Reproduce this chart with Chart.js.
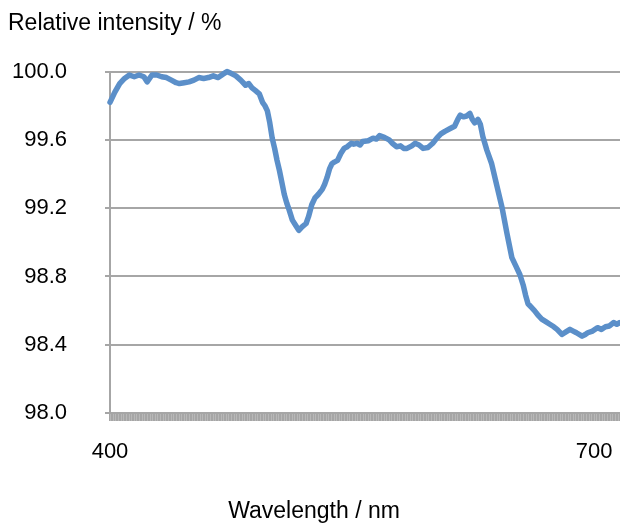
<!DOCTYPE html>
<html>
<head>
<meta charset="utf-8">
<script src="https://cdn.jsdelivr.net/npm/chart.js@4/dist/chart.umd.min.js"></script>
<style>
  html, body { margin: 0; padding: 0; background: #ffffff; }
  #wrap { width: 620px; height: 523px; }
</style>
</head>
<body>
<div id="wrap"><canvas id="c" width="620" height="523"></canvas></div>
<script>
const wavelengths = [400,403,406,409,412,415,418,421,423,426,429,432,435,438,441,443,446,449,452,455,458,461,464,467,470,472.5,475,478,481,484,486,488,490,492.5,494.5,496,497.5,499,500.5,502,503.5,505,506.5,508,509.5,511,513,515,517,519,521.5,523,525,527,529,531.5,533,534.5,536,537.5,539,541,543,545,547,549.5,551,553,555,556.5,560,563,565,567,570,573,575,577.5,580,582,584,587,589,591.5,594,597,600,602.5,605,607.5,610.5,613.5,615.5,617,619,621,623,624.5,626,628,629.5,631,633.5,636.5,639.5,643,646,649,651.5,654,656,657.5,659,661,663,665.5,667.5,670,672.5,675,677,680,682.5,685,687,689,692.5,694.5,696,699,702,704.5,707,709.5,712,714,716];
const intensity = [99.82,99.88,99.93,99.96,99.98,99.97,99.98,99.97,99.94,99.98,99.98,99.97,99.965,99.95,99.935,99.93,99.935,99.94,99.95,99.965,99.96,99.965,99.975,99.965,99.985,100.0,99.99,99.975,99.95,99.92,99.93,99.905,99.89,99.87,99.82,99.80,99.77,99.70,99.61,99.55,99.48,99.42,99.35,99.28,99.23,99.19,99.13,99.10,99.07,99.09,99.11,99.15,99.22,99.26,99.28,99.31,99.34,99.38,99.43,99.46,99.47,99.48,99.52,99.55,99.56,99.58,99.575,99.58,99.57,99.59,99.595,99.61,99.605,99.625,99.615,99.60,99.58,99.56,99.565,99.55,99.55,99.565,99.58,99.57,99.55,99.555,99.58,99.61,99.635,99.65,99.665,99.68,99.72,99.745,99.735,99.74,99.755,99.72,99.70,99.72,99.69,99.62,99.54,99.46,99.34,99.20,99.05,98.91,98.86,98.81,98.75,98.69,98.64,98.62,98.60,98.57,98.55,98.535,98.52,98.505,98.49,98.46,98.475,98.49,98.48,98.47,98.45,98.46,98.47,98.48,98.50,98.49,98.505,98.51,98.53,98.52,98.53];
const xLabelValues = [400, 700];
const yTickValues = [98.0, 98.4, 98.8, 99.2, 99.6, 100.0];
const yTitle = 'Relative intensity / %';
const xTitle = 'Wavelength / nm';

const FONT = '"Liberation Sans", Arial, Helvetica, sans-serif';
const GRID = '#a6a6a6';

new Chart(document.getElementById('c'), {
  type: 'line',
  data: {
    datasets: [{
      data: wavelengths.map((w, i) => ({ x: w, y: intensity[i] })),
      borderColor: '#5b8fc9',
      borderWidth: 5.5,
      pointRadius: 0,
      tension: 0,
      fill: false,
      borderCapStyle: 'round',
      borderJoinStyle: 'round',
      clip: false
    }]
  },
  options: {
    responsive: false,
    animation: false,
    layout: { padding: { left: 8, right: 0, top: 8, bottom: -2 } },
    plugins: {
      legend: { display: false },
      tooltip: { enabled: false },
      title: {
        display: true, text: yTitle, align: 'start', position: 'top',
        color: '#000', font: { family: FONT, size: 23, weight: 'normal' },
        padding: { top: 2, bottom: 34 }
      },
      subtitle: {
        display: true, text: xTitle, align: 'center', position: 'bottom',
        color: '#000', font: { family: FONT, size: 23, weight: 'normal' },
        padding: { top: 14, bottom: 0 }
      }
    },
    scales: {
      x: {
        type: 'linear', min: 400, max: 716,
        border: { display: true, color: GRID, width: 2 },
        grid: { drawOnChartArea: false, drawTicks: true, tickLength: 8, color: GRID, lineWidth: 1.8 },
        afterFit: s => { s.paddingRight = 0; s.paddingLeft = 0; },
        ticks: {
          stepSize: 1, autoSkip: false, maxRotation: 0, minRotation: 0,
          padding: 18, color: '#000', font: { family: FONT, size: 22 },
          callback: v => xLabelValues.includes(v) ? String(v) : ''
        }
      },
      y: {
        type: 'linear', min: 98, max: 100,
        border: { display: true, color: GRID, width: 2 },
        grid: { color: GRID, lineWidth: 2, tickLength: 5 },
        afterBuildTicks: s => { s.ticks = yTickValues.map(v => ({ value: v })); },
        afterFit: s => { s.width = 102; },
        ticks: {
          padding: 38, color: '#000', font: { family: FONT, size: 22 },
          callback: v => Number(v).toFixed(1)
        }
      }
    }
  }
});
</script>
</body>
</html>
